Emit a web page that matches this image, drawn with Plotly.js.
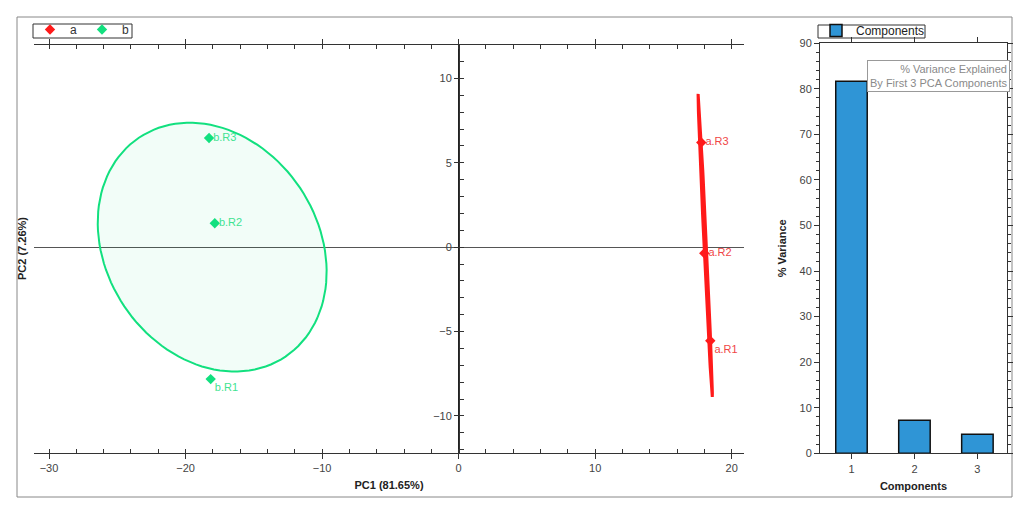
<!DOCTYPE html>
<html>
<head>
<meta charset="utf-8">
<script src="https://cdn.plot.ly/plotly-3.0.1.min.js"></script>
<style>html,body{margin:0;padding:0;background:#fff;}#chart{width:1029px;height:513px;}</style>
</head>
<body>
<div id="chart"></div>
<script>
// ---- data ----
const labelsA = ['a.R1', 'a.R2', 'a.R3'];
const pc1A = [18.43, 17.99, 17.77];
const pc2A = [-5.55, -0.36, 6.2];
const labelsB = ['b.R1', 'b.R2', 'b.R3'];
const pc1B = [-18.16, -17.86, -18.28];
const pc2B = [-7.82, 1.42, 6.47];
// confidence ellipses: centre, semi-axes, rotation (deg)
const ellipseACenter = [18.06, 0.1];
const ellipseARadii = [8.99, 0.09];
const ellipseAAngle = -86.7;
const ellipseBCenter = [-18.05, 0.0];
const ellipseBRadii = [8.77, 6.91];
const ellipseBAngle = -28.5;
// variance explained
const components = [1, 2, 3];
const variance = [81.65, 7.26, 4.2];

const RED = '#ff1a1a', RED_TXT = '#f04646';
const GREEN = '#12e07f', GREEN_TXT = '#3fe392';
const FONT = 'Liberation Sans, Arial, sans-serif';

function ellipsePts(c, r, angDeg) {
  const th = angDeg * Math.PI / 180, xs = [], ys = [];
  for (let i = 0; i <= 120; i++) {
    const t = 2 * Math.PI * i / 120;
    const u = r[0] * Math.cos(t), v = r[1] * Math.sin(t);
    xs.push(c[0] + u * Math.cos(th) - v * Math.sin(th));
    ys.push(c[1] + u * Math.sin(th) + v * Math.cos(th));
  }
  return [xs, ys];
}
const eA = ellipsePts(ellipseACenter, ellipseARadii, ellipseAAngle);
const eB = ellipsePts(ellipseBCenter, ellipseBRadii, ellipseBAngle);

const traces = [
  {x: eB[0], y: eB[1], type: 'scatter', mode: 'lines', fill: 'toself',
   fillcolor: 'rgba(0,220,120,0.05)', line: {color: GREEN, width: 2},
   showlegend: false, hoverinfo: 'skip', xaxis: 'x', yaxis: 'y'},
  {x: eA[0], y: eA[1], type: 'scatter', mode: 'lines', fill: 'toself',
   fillcolor: RED, line: {color: RED, width: 3},
   showlegend: false, hoverinfo: 'skip', xaxis: 'x', yaxis: 'y'},
  {x: pc1A, y: pc2A, type: 'scatter', mode: 'markers', name: 'a',
   marker: {symbol: 'diamond', size: 8, color: RED}, xaxis: 'x', yaxis: 'y'},
  {x: pc1B, y: pc2B, type: 'scatter', mode: 'markers', name: 'b',
   marker: {symbol: 'diamond', size: 8, color: GREEN}, xaxis: 'x', yaxis: 'y'},
  {x: pc1A, y: pc2A, text: labelsA, type: 'scatter', mode: 'markers+text',
   marker: {size: 5, opacity: 0},
   textposition: ['bottom right', 'middle right', 'middle right'],
   textfont: {color: RED_TXT, size: 11, family: FONT}, showlegend: false, xaxis: 'x', yaxis: 'y'},
  {x: pc1B, y: pc2B, text: labelsB, type: 'scatter', mode: 'markers+text',
   marker: {size: 5, opacity: 0},
   textposition: ['bottom right', 'middle right', 'middle right'],
   textfont: {color: GREEN_TXT, size: 11, family: FONT}, showlegend: false, xaxis: 'x', yaxis: 'y'},
  {x: components, y: variance, type: 'bar', name: 'Components', width: 0.5,
   marker: {color: '#2f95d6', line: {color: '#111', width: 1.5}},
   xaxis: 'x3', yaxis: 'y3', legend: 'legend2'}
];

const tickFont = {family: FONT, size: 11, color: '#444'};
const titleFont = {family: FONT, size: 11, color: '#222'};
const W = 1029, H = 513;
const leftDomY = [(H - 453) / H, (H - 44.7) / H];
const barDomY = [(H - 453.3) / H, (H - 43.3) / H];

const layout = {
  width: W, height: H,
  margin: {l: 0, r: 0, t: 0, b: 0},
  paper_bgcolor: '#fff', plot_bgcolor: '#fff',
  font: {family: FONT, size: 11, color: '#333'},
  xaxis: {
    domain: [34 / W, 744 / W], range: [-31.1, 20.9], anchor: 'y2',
    dtick: 10, tick0: 0, ticks: 'outside', ticklen: 5, tickcolor: '#333',
    minor: {dtick: 2, ticks: 'inside', ticklen: 4, tickcolor: '#333'},
    showline: true, linecolor: '#333', mirror: 'allticks', showgrid: false,
    zeroline: true, zerolinecolor: '#222', zerolinewidth: 1,
    tickfont: tickFont, automargin: false,
    title: {text: '<b>PC1 (81.65%)</b>', font: titleFont, standoff: 8}
  },
  yaxis: {
    domain: leftDomY, range: [-12.2, 12], anchor: 'free', overlaying: 'y2',
    position: 459 / W, side: 'left',
    dtick: 5, ticks: 'outside', ticklen: 5, tickcolor: '#333',
    minor: {dtick: 1, ticks: 'inside', ticklen: 4, tickcolor: '#333'},
    showline: true, linecolor: '#333', showgrid: false,
    zeroline: true, zerolinecolor: '#555', zerolinewidth: 1,
    tickfont: tickFont, automargin: false
  },
  yaxis2: {
    domain: leftDomY, range: [-12.2, 12], anchor: 'x', side: 'left',
    showticklabels: false, dtick: 5, ticks: 'inside', ticklen: 5, tickcolor: '#333',
    minor: {dtick: 1, ticks: 'inside', ticklen: 3, tickcolor: '#333'},
    showline: true, linecolor: '#333', mirror: 'allticks', showgrid: false, zeroline: false,
    automargin: false
  },
  xaxis3: {
    domain: [820 / W, 1007 / W], range: [0.5, 3.47], anchor: 'y3',
    tickvals: components, ticks: 'outside', ticklen: 5, tickcolor: '#333',
    showline: true, linecolor: '#333', mirror: 'allticks', showgrid: false, zeroline: false,
    tickfont: tickFont, automargin: false,
    title: {text: '<b>Components</b>', font: titleFont, standoff: 8}
  },
  yaxis3: {
    domain: barDomY, range: [0, 90], anchor: 'x3',
    dtick: 10, ticks: 'outside', ticklen: 5, tickcolor: '#333',
    minor: {dtick: 2, ticks: 'outside', ticklen: 3, tickcolor: '#333'},
    showline: true, linecolor: '#333', mirror: 'allticks', showgrid: false, zeroline: false,
    tickfont: tickFont, automargin: false,
    title: {text: '<b>% Variance</b>', font: titleFont, standoff: 10}
  },
  legend: {
    x: 30 / W, y: (H - 15) / H, xanchor: 'left', yanchor: 'top',
    orientation: 'h', borderwidth: 0, bgcolor: 'rgba(0,0,0,0)',
    font: {family: FONT, size: 12, color: '#333'}, itemclick: false
  },
  legend2: {
    x: 816 / W, y: (H - 16) / H, xanchor: 'left', yanchor: 'top',
    orientation: 'h', borderwidth: 0, bgcolor: 'rgba(0,0,0,0)',
    font: {family: FONT, size: 12, color: '#222'}
  },
  annotations: [{
    xref: 'paper', yref: 'paper', x: 1010 / W, y: (H - 60) / H,
    xanchor: 'right', yanchor: 'top', align: 'right', showarrow: false,
    text: '% Variance Explained<br>By First 3 PCA Components',
    font: {family: FONT, size: 11, color: '#8a8a8a'},
    bgcolor: '#fff', bordercolor: '#999', borderwidth: 1, borderpad: 2
  }, {
    xref: 'paper', yref: 'paper', x: 22 / W, y: (H - 249) / H,
    xanchor: 'center', yanchor: 'middle', showarrow: false, textangle: -90,
    text: '<b>PC2 (7.26%)</b>', font: titleFont
  }],
  shapes: [{
    type: 'rect', xref: 'paper', yref: 'paper',
    x0: 17 / W, x1: 1012 / W, y0: (H - 497) / H, y1: (H - 17) / H,
    line: {color: '#888', width: 1}, layer: 'below'
  }, {
    type: 'rect', xref: 'paper', yref: 'paper',
    x0: 33 / W, x1: 132 / W, y0: (H - 38) / H, y1: (H - 24) / H,
    line: {color: '#333', width: 1}, layer: 'below'
  }, {
    type: 'rect', xref: 'paper', yref: 'paper',
    x0: 818 / W, x1: 925 / W, y0: (H - 38) / H, y1: (H - 25) / H,
    line: {color: '#333', width: 1}, layer: 'below'
  }]
};

Plotly.newPlot('chart', traces, layout, {displayModeBar: false, staticPlot: true});
</script>
</body>
</html>
